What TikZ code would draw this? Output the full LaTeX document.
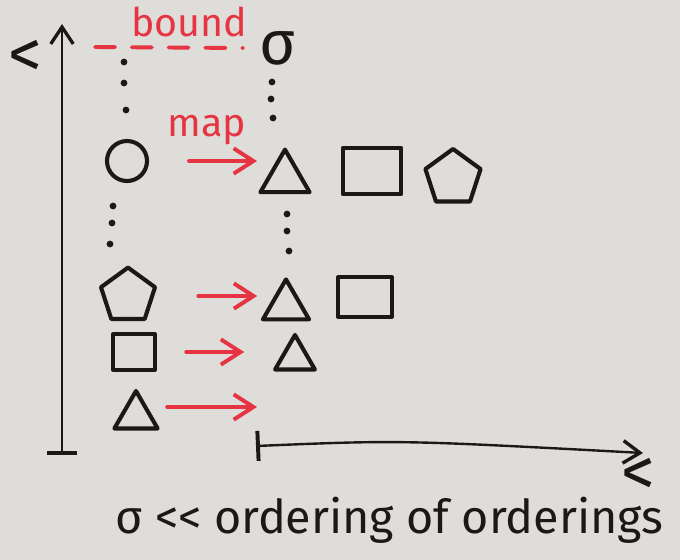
\documentclass[tikz,border=0pt]{standalone}
\usepackage{fontspec}
\setmainfont{Fira Sans}
\usetikzlibrary{shapes.geometric,arrows.meta}
\definecolor{board}{RGB}{222,221,217}
\definecolor{ink}{RGB}{28,24,24}
\definecolor{redink}{RGB}{230,52,66}
\begin{document}
\begin{tikzpicture}[x=0.025cm,y=-0.025cm,
  figure/.style={draw=ink, line width=2.9pt, line join=round, inner sep=0pt},
  tri/.style={figure, regular polygon, regular polygon sides=3},
  pent/.style={figure, regular polygon, regular polygon sides=5},
  box/.style={figure, rectangle},
  ring/.style={figure, circle},
  dotmark/.style={circle, fill=ink, inner sep=0pt, minimum size=4.8pt},
  maparrow/.style={draw=redink, line width=2.8pt, line cap=round,
    -{Straight Barb[length=14pt,width=18pt,line width=2.8pt]}},
  axis/.style={draw=ink, line width=1.7pt, line cap=round,
    {Bar[width=0.75cm,line width=2.8pt]}-{Straight Barb[length=12pt,width=16pt,line width=2.4pt]}},
  redlabel/.style={text=redink, font=\fontsize{28}{30}\selectfont, inner sep=0pt},
  inklabel/.style={text=ink, font=\fontsize{33.2}{36}\selectfont, inner sep=0pt,
    text height=0.52em},
  chevron/.style={text=ink, font=\fontsize{48}{50}\selectfont, inner sep=0pt,
    text height=0.55em, text depth=-0.05em}
]
\fill[board] (0,0) rectangle (680,560);
\useasboundingbox (0,0) rectangle (680,560);

% axes
\coordinate (vbot) at (62,455);
\coordinate (vtop) at (62,24);
\draw[axis] (vbot) -- (vtop);
\node[chevron] (ltv) at (25,74) {<};

\coordinate (hleft) at (256,446);
\coordinate (hright) at (643,453);
\draw[axis] (hleft) .. controls (400,440) .. (hright);
\node[chevron] (lth) at (638,492) {<};

% bound
\coordinate (bl) at (95,47);
\coordinate (br) at (243,48);
\draw[redink, line width=2.8pt, line cap=round, dash pattern=on 0.5cm off 0.42cm] (bl) -- (br);
\node[redlabel] (bound) at (189,22) {bound};
\node[text=ink, font=\fontsize{44}{46}\selectfont, inner sep=0pt] (sigma) at (278,48) {σ};

% dots
\foreach \p in {(124,62),(124,83),(126,110),(272,82),(271,99),(273,118),
                (113,206),(112,223),(110,244),(287,214),(287,231),(289,251)}
  \node[dotmark] at \p {};

% map label
\node[redlabel] (map) at (207,130) {map};

% left column
\node[ring, minimum size=1.0cm] (c1) at (127,161) {};
\node[pent, minimum size=1.42cm] (p1) at (128,296) {};
\node[box, minimum width=1.05cm, minimum height=0.88cm] (s1) at (134,352) {};
\node[tri, minimum size=1.25cm] (t1) at (136,416) {};

% right side
\node[tri, minimum size=1.42cm] (t2) at (285,178) {};
\node[box, minimum width=1.47cm, minimum height=1.15cm] (s2) at (372,171) {};
\node[pent, minimum size=1.45cm] (p2) at (453,178) {};
\node[tri, minimum size=1.33cm] (t3) at (286,306) {};
\node[box, minimum width=1.35cm, minimum height=0.98cm] (s3) at (365,297) {};
\node[tri, minimum size=1.15cm] (t4) at (295,358) {};

% map arrows
\draw[maparrow, shorten <=1.0cm, shorten >=0.7cm] (c1) -- (c1 -| t2);
\draw[maparrow, shorten <=1.1cm, shorten >=0.72cm] (p1) -- (p1 -| t3);
\draw[maparrow, shorten <=0.73cm, shorten >=1.27cm] (s1) -- (s1 -| t4);
\coordinate (free) at (257,407);
\draw[maparrow, shorten <=0.78cm] (free -| t1) -- (free);

% caption
\node[inklabel, anchor=base west] (caption) at (115,533) {σ <{}< ordering of orderings};
\end{tikzpicture}
\end{document}
